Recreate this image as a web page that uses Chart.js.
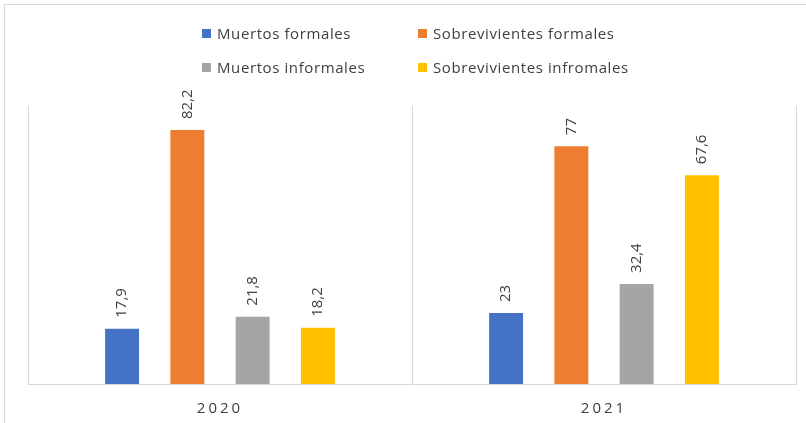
<!DOCTYPE html>
<html>
<head>
<meta charset="utf-8">
<script src="https://cdn.jsdelivr.net/npm/chart.js@4"></script>
<style>
  html, body { margin: 0; padding: 0; background: #fff; overflow: hidden; }
  #wrap { position: relative; width: 806px; height: 423px; }
  #frame { position: absolute; left: 4px; top: 4px; width: 830px; height: 440px; border: 1px solid #d9d9d9; box-sizing: border-box; }
  #myChart { position: absolute; left: 0; top: 0; }
  #legend { position: absolute; left: 202px; top: 16px; display: grid; grid-template-columns: 216px 240px; grid-auto-rows: 34px; font-family: "Open Sans", sans-serif; font-size: 15px; letter-spacing: 0.6px; color: #404040; }
  #legend div { display: flex; align-items: center; white-space: nowrap; }
  #legend span.box { display: inline-block; width: 9px; height: 9px; margin-right: 6px; }
</style>
</head>
<body>
<div id="wrap">
  <div id="frame"></div>
  <canvas id="myChart" width="806" height="423"></canvas>
  <div id="legend"></div>
</div>
<script>
const years = ["2020", "2021"];
const muertosFormales = [17.9, 23];
const sobrevivientesFormales = [82.2, 77];
const muertosInformales = [21.8, 32.4];
const sobrevivientesInformales = [18.2, 67.6];

const seriesNames = ["Muertos formales", "Sobrevivientes formales", "Muertos informales", "Sobrevivientes infromales"];
const seriesColors = ["#4472C4", "#ED7D31", "#A5A5A5", "#FFC000"];
const seriesData = [muertosFormales, sobrevivientesFormales, muertosInformales, sobrevivientesInformales];

// value labels rotated above each bar
const barLabels = {
  id: "barLabels",
  afterDatasetsDraw(chart) {
    const ctx = chart.ctx;
    ctx.save();
    ctx.font = '15px "Open Sans", sans-serif';
    ctx.fillStyle = "#404040";
    ctx.textAlign = "left";
    ctx.textBaseline = "middle";
    chart.data.datasets.forEach((ds, i) => {
      chart.getDatasetMeta(i).data.forEach((bar, j) => {
        const txt = String(ds.data[j]).replace(".", ",");
        ctx.save();
        ctx.translate(bar.x, bar.y - 11);
        ctx.rotate(-Math.PI / 2);
        ctx.fillText(txt, 0, 0);
        ctx.restore();
      });
    });
    ctx.restore();
  }
};

// spaced-out category labels
const axisSpacing = {
  id: "axisSpacing",
  beforeDraw(chart) { chart.ctx.letterSpacing = "3px"; },
  beforeDatasetsDraw(chart) { chart.ctx.letterSpacing = "0px"; }
};

const legendEl = document.getElementById("legend");
seriesNames.forEach((name, i) => {
  const item = document.createElement("div");
  item.innerHTML = '<span class="box" style="background:' + seriesColors[i] + '"></span>' + name;
  legendEl.appendChild(item);
});

const ctx = document.getElementById("myChart").getContext("2d");

new Chart(ctx, {
  type: "bar",
  data: {
    labels: years,
    datasets: seriesNames.map((name, i) => ({
      label: name,
      data: seriesData[i],
      backgroundColor: seriesColors[i],
      borderWidth: 0,
      categoryPercentage: 0.68,
      barPercentage: 0.52,
    })),
  },
  options: {
    responsive: false,
    animation: false,
    layout: { padding: { left: 28, right: 10, top: 106, bottom: -11 } },
    plugins: {
      legend: { display: false },
      tooltip: { enabled: false },
    },
    scales: {
      x: {
        grid: { color: "#d9d9d9", drawTicks: false, offset: true },
        border: { color: "#d9d9d9" },
        ticks: { color: "#404040", font: { family: "Open Sans", size: 15 }, padding: 16 },
      },
      y: {
        display: false,
        min: 0,
        max: 90,
      },
    },
  },
  plugins: [barLabels, axisSpacing],
});
</script>
</body>
</html>
